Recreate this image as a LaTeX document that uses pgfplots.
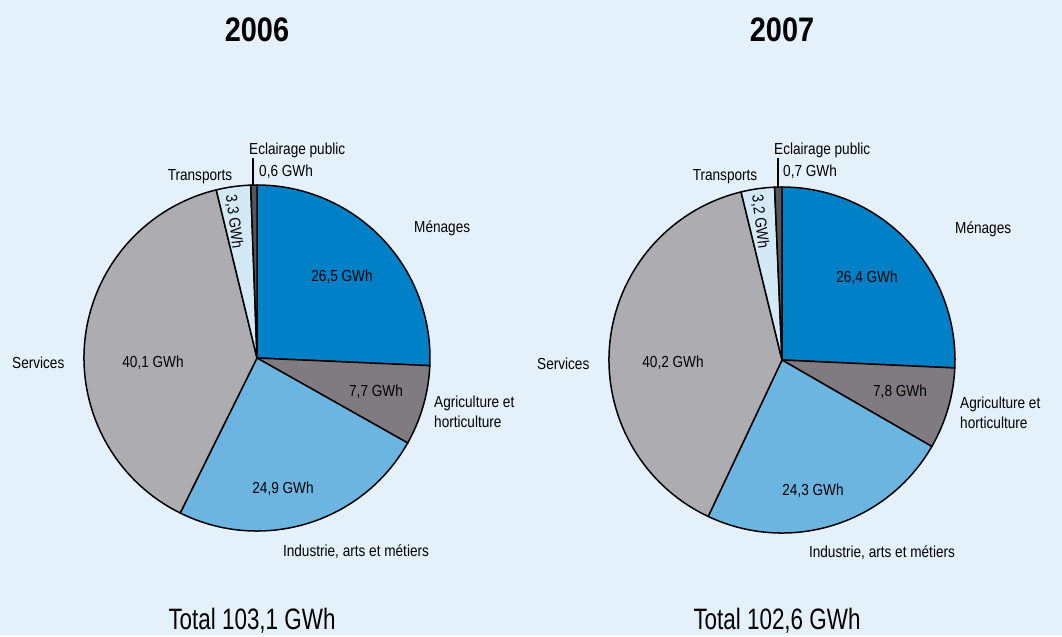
\documentclass[border=0pt]{standalone}
\usepackage{pgfplots}
\pgfplotsset{compat=1.18}
\usepackage{fontspec}
\setmainfont{Liberation Sans}[FakeStretch=0.85]
\newfontfamily\totalfont{Liberation Sans}[FakeStretch=0.76]
\definecolor{bg}{HTML}{E5F1FA}
\definecolor{cMen}{HTML}{0080C6}
\definecolor{cAgr}{HTML}{7F7B80}
\definecolor{cInd}{HTML}{6CB5E0}
\definecolor{cSer}{HTML}{ADADB1}
\definecolor{cTra}{HTML}{D3E9F6}
\definecolor{cEcl}{HTML}{55555A}
\tikzset{L/.style={font=\fontsize{16}{20}\selectfont,inner sep=0pt}}
\newcommand\pie[3]{%
  \xdef\pietotal{0}%
  \foreach \v/\c in {#3}{\pgfmathsetmacro\pietmp{\pietotal+\v}\xdef\pietotal{\pietmp}}%
  \xdef\piecum{0}%
  \foreach \v/\c in {#3}{%
    \pgfmathsetmacro\sa{90-\piecum/\pietotal*360}%
    \pgfmathsetmacro\ea{90-(\piecum+\v)/\pietotal*360}%
    \edef\temp{\noexpand\filldraw[fill=\c,draw=black,line width=1.5pt,line join=round] (axis cs:#1,#2) -- ++(\sa:173pt) arc[start angle=\sa,end angle=\ea,radius=173pt] -- cycle;}%
    \temp
    \pgfmathsetmacro\pietmp{\piecum+\v}\xdef\piecum{\pietmp}%
  }%
}
\begin{document}
\begin{tikzpicture}
\begin{axis}[x=1pt,y=1pt,xmin=0,xmax=1062,ymin=0,ymax=635,hide axis,clip=false,
  at={(0,0)},anchor=origin]
\fill[bg] (axis cs:0,0) rectangle (axis cs:1062,635);
% values: Ménages, Agriculture et horticulture, Industrie, Services, Transports, Eclairage public
\pie{257}{277}{26.5/cMen,7.7/cAgr,24.9/cInd,40.1/cSer,3.3/cTra,0.6/cEcl}
\pie{782}{275}{26.4/cMen,7.8/cAgr,24.3/cInd,40.2/cSer,3.2/cTra,0.7/cEcl}
% titles
\node[font=\fontsize{34}{40}\selectfont\bfseries] at (axis cs:257,605) {2006};
\node[font=\fontsize{34}{40}\selectfont\bfseries] at (axis cs:782,605) {2007};
\node[font=\fontsize{29.5}{34}\selectfont\totalfont] at (axis cs:252,14) {Total 103,1 GWh};
\node[font=\fontsize{29.5}{34}\selectfont\totalfont] at (axis cs:777,14) {Total 102,6 GWh};
% pie 1 labels
\draw[line width=1.5pt] (axis cs:253,477) -- (axis cs:253,450);
\node[L,anchor=west] at (axis cs:249,485) {Eclairage public};
\node[L,anchor=west] at (axis cs:259,463) {0,6 GWh};
\node[L] at (axis cs:200,458) {Transports};
\node[L,rotate=-83] at (axis cs:234,413) {3,3 GWh};
\node[L,anchor=west] at (axis cs:414,407) {Ménages};
\node[L] at (axis cs:342,358) {26,5 GWh};
\node[L] at (axis cs:153,272) {40,1 GWh};
\node[L,anchor=west] at (axis cs:12,272) {Services};
\node[L] at (axis cs:376,243) {7,7 GWh};
\node[L,anchor=north west,align=left] at (axis cs:434,239) {Agriculture et\\horticulture};
\node[L] at (axis cs:283,146) {24,9 GWh};
\node[L] at (axis cs:356,83) {Industrie, arts et métiers};
% pie 2 labels
\draw[line width=1.5pt] (axis cs:778,477) -- (axis cs:778,448);
\node[L,anchor=west] at (axis cs:774,485) {Eclairage public};
\node[L,anchor=west] at (axis cs:783,463) {0,7 GWh};
\node[L] at (axis cs:725,458) {Transports};
\node[L,rotate=-83] at (axis cs:760,413) {3,2 GWh};
\node[L,anchor=west] at (axis cs:955,406) {Ménages};
\node[L] at (axis cs:867,357) {26,4 GWh};
\node[L] at (axis cs:673,272) {40,2 GWh};
\node[L,anchor=west] at (axis cs:537,271) {Services};
\node[L] at (axis cs:900,243) {7,8 GWh};
\node[L,anchor=north west,align=left] at (axis cs:960,238) {Agriculture et\\horticulture};
\node[L] at (axis cs:813,144) {24,3 GWh};
\node[L] at (axis cs:882,82) {Industrie, arts et métiers};
\end{axis}
\end{tikzpicture}
\end{document}
